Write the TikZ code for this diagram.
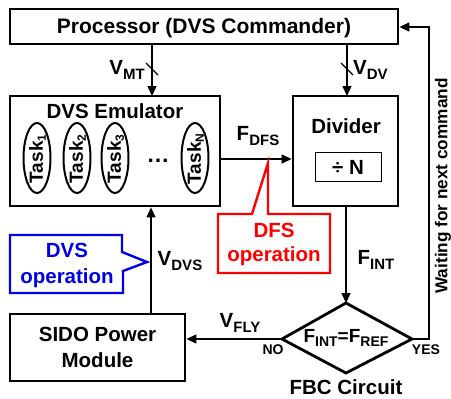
\documentclass[tikz,border=0pt]{standalone}
\usepackage{fontspec}
\setmainfont{Liberation Sans}
\usetikzlibrary{arrows.meta,shapes.geometric}
\newcommand\sbs[1]{\raisebox{-4.5pt}{\fontsize{15}{15}\selectfont #1}}
\newcommand\sbt[1]{\raisebox{-4pt}{\fontsize{14}{14}\selectfont #1}}
\newcommand\sbk[1]{\raisebox{-3pt}{\fontsize{12}{12}\selectfont #1}}
\begin{document}
\begin{tikzpicture}[x=1pt,y=-1pt,
  box/.style={draw,line width=2.8pt},
  conn/.style={line width=1.3pt,-{Triangle[length=10pt,width=9pt]}},
  plain/.style={line width=1.3pt},
  lbl/.style={font=\bfseries\fontsize{20.5}{24}\selectfont,inner sep=0pt},
  small/.style={font=\bfseries\fontsize{14}{16}\selectfont,inner sep=0pt},
  task/.style={draw,ellipse,line width=2pt,minimum width=27pt,minimum height=70pt,inner sep=0pt},
  tasktxt/.style={font=\bfseries\fontsize{19}{21}\selectfont,rotate=90,inner sep=0pt},
  callblue/.style={draw=blue!90!black,line width=2.4pt,line join=miter},
  callred/.style={draw=red,line width=2.4pt,line join=miter}
]
\useasboundingbox (0,0) rectangle (451,399);
% Processor
\node[box,minimum width=388pt,minimum height=35pt,inner sep=0pt] (proc) at (204,26.5) {};
\node[lbl,font=\bfseries\fontsize{21}{24}\selectfont] (proctxt) at (204,28) {Processor (DVS Commander)};
% DVS Emulator
\node[box,minimum width=210pt,minimum height=110pt,inner sep=0pt] (emu) at (115,151) {};
\node[lbl] (emutxt) at (115,111) {DVS Emulator};
\node[task] (t1) at (37,158) {};
\node[task] (t2) at (77,158) {};
\node[task] (t3) at (115,158) {};
\node[task] (tn) at (195,158) {};
\node[tasktxt] (t1t) at (37.5,159) {Task\sbk{1}};
\node[tasktxt] (t2t) at (77.5,159) {Task\sbk{2}};
\node[tasktxt] (t3t) at (115.5,159) {Task\sbk{3}};
\node[tasktxt] (tnt) at (195.5,159) {Task\sbk{N}};
\node[font=\bfseries\fontsize{23}{23}\selectfont,inner sep=0pt] (dots) at (158,161) {…};
% Divider
\node[box,minimum width=105pt,minimum height=110pt,inner sep=0pt] (div) at (345.5,151) {};
\node[lbl] (divtxt) at (346,126) {Divider};
\node[draw,line width=0.9pt,minimum width=66pt,minimum height=29pt,inner sep=0pt] (divn) at (348,166.5) {};
\node[lbl] (divntxt) at (348,167) {÷ N};
% SIDO
\node[box,minimum width=175pt,minimum height=67pt,inner sep=0pt] (sido) at (97.5,347.5) {};
\node[lbl,align=center,font=\bfseries\fontsize{20.5}{26}\selectfont] (sidotxt) at (97.5,347.5) {SIDO Power\\Module};
% Diamond
\coordinate (dt) at (346,303);
\coordinate (dl) at (282,339);
\coordinate (dr) at (412,339);
\coordinate (db) at (346,373);
\draw[line width=2.8pt,line join=miter] (dt) -- (dr) -- (db) -- (dl) -- cycle;
\node[lbl,font=\bfseries\fontsize{19}{21}\selectfont] (cmp) at (346,338) {F\sbt{INT}=F\sbt{REF}};
\node[lbl] (fbc) at (346,387) {FBC Circuit};
\node[small] (no) at (273,350) {NO};
\node[small] (yes) at (426,350) {YES};
% connectors
\coordinate (vmtA) at (152,44);
\coordinate (vmtB) at (152,96);
\draw[conn] (vmtA) -- (vmtB);
\draw[plain] (146,63) -- (158,75);
\coordinate (vdvA) at (347,44);
\coordinate (vdvB) at (347,96);
\draw[conn] (vdvA) -- (vdvB);
\draw[plain] (341,63) -- (353,75);
\node[lbl,anchor=east] (vmt) at (145,70) {V\sbs{MT}};
\node[lbl,anchor=west] (vdv) at (353,70) {V\sbs{DV}};
\draw[conn] (emu.east |- 0,159) -- (div.west |- 0,159);
\node[lbl] (fdfs) at (258,136) {F\sbs{DFS}};
\draw[conn] (div.south -| 346,0) -- (dt);
\node[lbl] (fint) at (376,260) {F\sbs{INT}};
\draw[conn] (dl) -- (sido.east |- dl);
\node[lbl] (vfly) at (240,323) {V\sbs{FLY}};
\draw[conn] (sido.north -| 151,0) -- (emu.south -| 151,0);
\node[lbl] (vdvs) at (180,261) {V\sbs{DVS}};
\coordinate (wc1) at (429,339);
\coordinate (wc2) at (429,27);
\draw[conn] (dr) -- (wc1) -- (wc2) -- (proc.east |- wc2);
\node[lbl,rotate=90,font=\bfseries\fontsize{17.2}{20}\selectfont] (wait) at (443,186) {Waiting for next command};
% callouts
\draw[callblue] (10,235) -- (122,235) -- (122,252) -- (147,262) -- (123,271) -- (123,293) -- (10,293) -- cycle;
\node[lbl,text=blue!90!black,align=center,font=\bfseries\fontsize{20.5}{26}\selectfont] (dvsop) at (67,265) {DVS\\operation};
\draw[callred] (218,214) -- (252,214) -- (268,163) -- (268,214) -- (330,214) -- (330,273) -- (218,273) -- cycle;
\node[lbl,text=red,align=center,font=\bfseries\fontsize{20.5}{24}\selectfont] (dfsop) at (274,244) {DFS\\operation};
\end{tikzpicture}
\end{document}
